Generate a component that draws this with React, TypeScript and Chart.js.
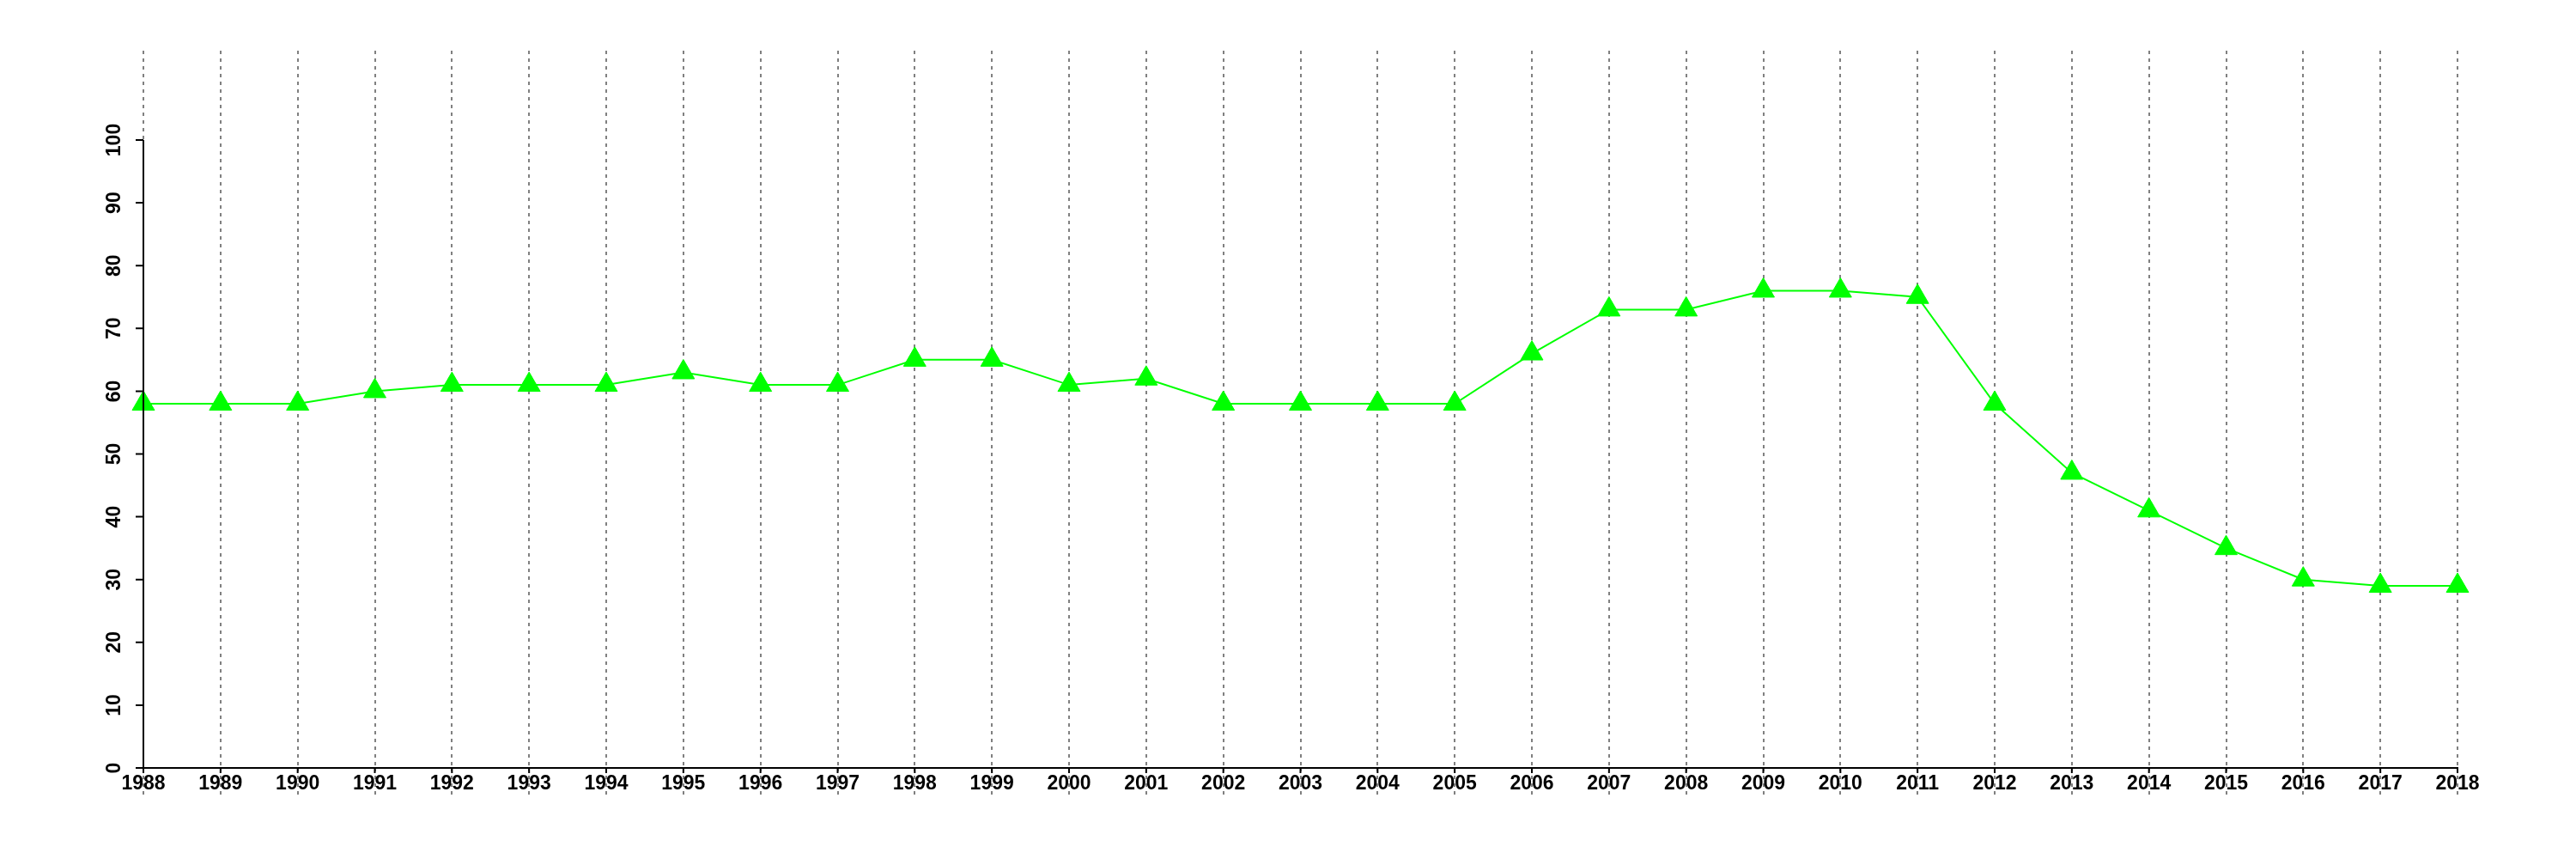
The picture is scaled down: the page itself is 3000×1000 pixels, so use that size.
import React, { useEffect, useRef } from "react";
import { Chart, registerables } from "chart.js";

Chart.register(...registerables);

const years: string[] = [
  "1988", "1989", "1990", "1991", "1992", "1993", "1994", "1995", "1996", "1997",
  "1998", "1999", "2000", "2001", "2002", "2003", "2004", "2005", "2006", "2007",
  "2008", "2009", "2010", "2011", "2012", "2013", "2014", "2015", "2016", "2017", "2018",
];

const values: number[] = [
  58, 58, 58, 60, 61, 61, 61, 63, 61, 61,
  65, 65, 61, 62, 58, 58, 58, 58, 66, 73,
  73, 76, 76, 75, 58, 47, 41, 35, 30, 29, 29,
];

const yTickValues: number[] = [0, 10, 20, 30, 40, 50, 60, 70, 80, 90, 100];

const Y_MIN = 0;
const Y_MAX = 114.23;

const axisPlugin = {
  id: "customAxes",
  afterDraw(chart: any) {
    const { ctx } = chart;
    const x = chart.scales.x;
    const y = chart.scales.y;
    const y0 = y.getPixelForValue(0);
    const yTop = y.getPixelForValue(yTickValues[yTickValues.length - 1]);
    const xl = x.getPixelForValue(0);
    const xr = x.getPixelForValue(years.length - 1);
    ctx.save();
    ctx.strokeStyle = "#000";
    ctx.lineWidth = 2;
    ctx.beginPath();
    ctx.moveTo(xl, yTop);
    ctx.lineTo(xl, y0);
    ctx.moveTo(xl - 1, y0);
    ctx.lineTo(xr + 1, y0);
    for (const v of yTickValues) {
      const py = y.getPixelForValue(v);
      ctx.moveTo(xl - 9, py);
      ctx.lineTo(xl, py);
    }
    for (let i = 0; i < years.length; i++) {
      const px = x.getPixelForValue(i);
      ctx.moveTo(px, y0);
      ctx.lineTo(px, y0 + 6);
    }
    ctx.stroke();
    ctx.restore();
  },
};

export default function App() {
  const canvasRef = useRef<HTMLCanvasElement | null>(null);

  useEffect(() => {
    if (!canvasRef.current) return;
    const tickFont = { family: "'Liberation Sans', Arial, Helvetica, sans-serif", size: 23, weight: "bold" as const };
    const chart = new Chart(canvasRef.current, {
      type: "line",
      data: {
        labels: years,
        datasets: [
          {
            data: values,
            borderColor: "#00ff00",
            backgroundColor: "#00ff00",
            borderWidth: 2,
            pointStyle: "triangle",
            pointRadius: 15,
            pointBorderWidth: 1,
            pointBackgroundColor: "#00ff00",
            pointBorderColor: "#00ff00",
            tension: 0,
            clip: false as any,
          },
        ],
      },
      options: {
        animation: false,
        responsive: false,
        maintainAspectRatio: false,
        layout: { padding: { left: 0, top: 59, right: 138, bottom: 0 } },
        plugins: {
          legend: { display: false },
          tooltip: { enabled: false },
          title: { display: false },
        },
        scales: {
          x: {
            type: "category",
            offset: false,
            z: 1,
            border: { display: false },
            grid: {
              display: true,
              drawOnChartArea: true,
              drawTicks: true,
              color: "#808080",
              lineWidth: 2,
              tickLength: 33,
              tickColor: "#808080",
              tickWidth: 2,
              tickBorderDash: [4, 5],
            },
            ticks: {
              color: "#000",
              font: tickFont,
              padding: -28,
              maxRotation: 0,
              minRotation: 0,
              autoSkip: false,
            },
            afterFit(scale: any) {
              scale.height = 106;
            },
          } as any,
          y: {
            type: "linear",
            min: Y_MIN,
            max: Y_MAX,
            border: { display: false },
            grid: { display: false },
            afterBuildTicks(scale: any) {
              scale.ticks = yTickValues.map((v) => ({ value: v }));
            },
            ticks: {
              color: "#000",
              font: tickFont,
              padding: 6,
              minRotation: 90,
              maxRotation: 90,
              crossAlign: "center",
              callback: (v: any) => String(v),
            },
            afterFit(scale: any) {
              scale.width = 167;
            },
          } as any,
        },
      },
      plugins: [axisPlugin],
    });
    // dashed grid lines
    (chart.options.scales as any).x.grid.borderDash = [4, 5];
    (chart.options.scales as any).x.border = { display: false, dash: [4, 5] };
    chart.update();
    return () => chart.destroy();
  }, []);

  return (
    <div style={{ position: "absolute", left: 0, top: 0, width: 3000, height: 1000, background: "#fff" }}>
      <canvas ref={canvasRef} width={3000} height={1000} style={{ width: 3000, height: 1000, display: "block" }} />
    </div>
  );
}
